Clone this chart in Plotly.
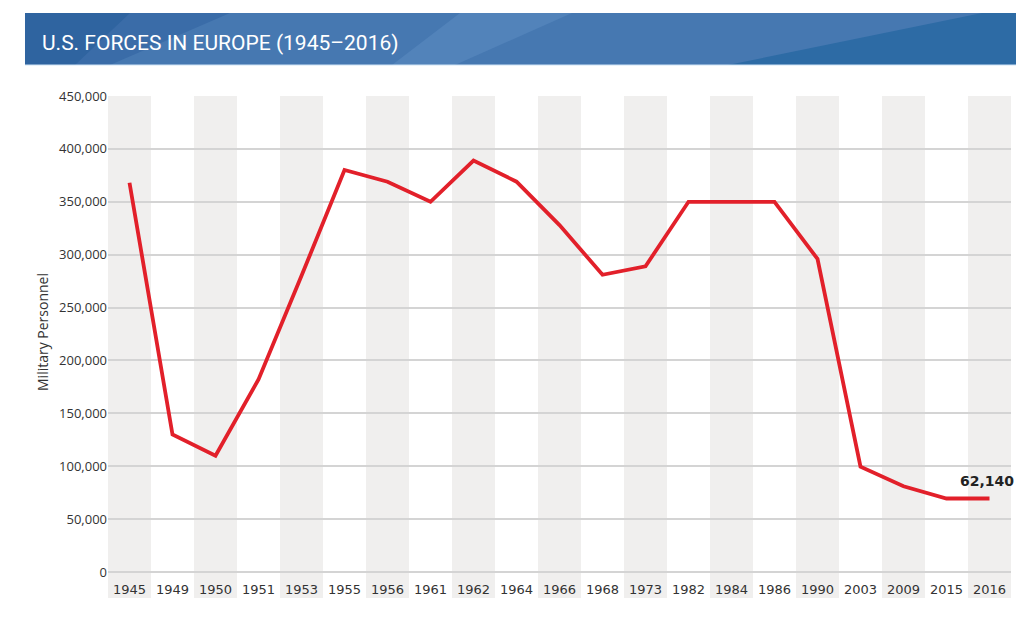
import plotly.graph_objects as go

years = ["1945", "1949", "1950", "1951", "1953", "1955", "1956", "1961", "1962", "1964",
         "1966", "1968", "1973", "1982", "1984", "1986", "1990", "2003", "2009", "2015", "2016"]
personnel = [368000, 130000, 110000, 182000, 280000, 380000, 369000, 350000, 389000, 369000,
             328000, 281000, 289000, 350000, 350000, 350000, 296000, 99500, 81000, 69500, 69500]
y_ticks = [0, 50000, 100000, 150000, 200000, 250000, 300000, 350000, 400000, 450000]
title_text = "U.S. FORCES IN EUROPE (1945\u20132016)"
y_title = "Military Personnel"
end_label = "62,140"

OFF = 8  # page body margin
W, H = 1024 - OFF, 600
ML, MT = 108 - OFF, 96 - OFF
MR = W - (1011 - OFF)
MB = H - (572 - OFF)
PW, PH = W - ML - MR, H - MT - MB


def px(x):
    return (x - OFF - ML) / PW


def py(y):
    return (H - MB - (y - OFF)) / PH


fig = go.Figure()
fig.add_trace(go.Scatter(
    x=years, y=personnel, mode="lines",
    line=dict(color="#e2202a", width=3.8),
    hoverinfo="x+y", showlegend=False,
))

shapes = []
# alternating column bands
for i in range(0, len(years), 2):
    shapes.append(dict(type="rect", xref="x", yref="paper",
                       x0=i - 0.5, x1=i + 0.5, y0=py(598), y1=1,
                       fillcolor="#f0efee", line=dict(width=0), layer="below"))


def poly(points, color):
    d = "M " + " L ".join(f"{px(a):.5f},{py(b):.5f}" for a, b in points) + " Z"
    return dict(type="path", xref="paper", yref="paper", path=d,
                fillcolor=color, line=dict(width=0), layer="above")


# header band
shapes.append(poly([(25, 13), (1024, 13), (1024, 65), (25, 65)], "#4678b1"))
shapes.append(poly([(25, 13), (230, 13), (110, 65), (25, 65)], "#3a6ca8"))
shapes.append(poly([(25, 13), (130, 13), (75, 65), (25, 65)], "#2f64a0"))
shapes.append(poly([(460, 13), (572, 13), (455, 65), (392, 65)], "#5283ba"))
shapes.append(poly([(982, 13), (1024, 13), (1024, 65), (728, 65)], "#2d6ba5"))
shapes.append(dict(type="line", xref="paper", yref="paper",
                   x0=px(25), x1=px(1024), y0=py(65), y1=py(65),
                   line=dict(color="#cfe3f5", width=1)))

annotations = [
    dict(text=title_text, xref="paper", yref="paper", x=px(40), y=py(43),
         xanchor="left", yanchor="middle", showarrow=False,
         font=dict(family="Roboto, sans-serif", size=21, color="white")),
    dict(text=y_title, xref="paper", yref="paper", x=px(42), y=py(332),
         xanchor="center", yanchor="middle", showarrow=False, textangle=-90,
         font=dict(family="Open Sans, sans-serif", size=14, color="#333333")),
    dict(text=f"<b>{end_label}</b>", x=len(years) - 1, y=personnel[-1], xref="x", yref="y",
         showarrow=False, yshift=17, xshift=-3, xanchor="center", yanchor="middle",
         font=dict(family="DejaVu Sans, sans-serif", size=14, color="#222222")),
]

fig.update_layout(
    width=W, height=H,
    margin=dict(l=ML, r=MR, t=MT, b=MB),
    paper_bgcolor="white", plot_bgcolor="rgba(0,0,0,0)",
    shapes=shapes, annotations=annotations,
    showlegend=False,
)
fig.update_xaxes(
    type="category", categoryorder="array", categoryarray=years,
    range=[-0.5, len(years) - 0.5], showgrid=False, zeroline=False, showline=False,
    ticks="", ticklabelstandoff=8,
    tickfont=dict(family="DejaVu Sans, sans-serif", size=13, color="#333333"),
    fixedrange=True,
)
fig.update_yaxes(
    range=[0, 450000], tickvals=y_ticks,
    ticktext=[f"{v:,}" for v in y_ticks],
    showgrid=True, gridcolor="#d4d4d4", gridwidth=2,
    zeroline=True, zerolinecolor="#d4d4d4", zerolinewidth=2,
    showline=False, ticks="",
    tickfont=dict(family="Open Sans, sans-serif", size=13, color="#333333"),
    fixedrange=True,
)

fig.write_html("out.html")
